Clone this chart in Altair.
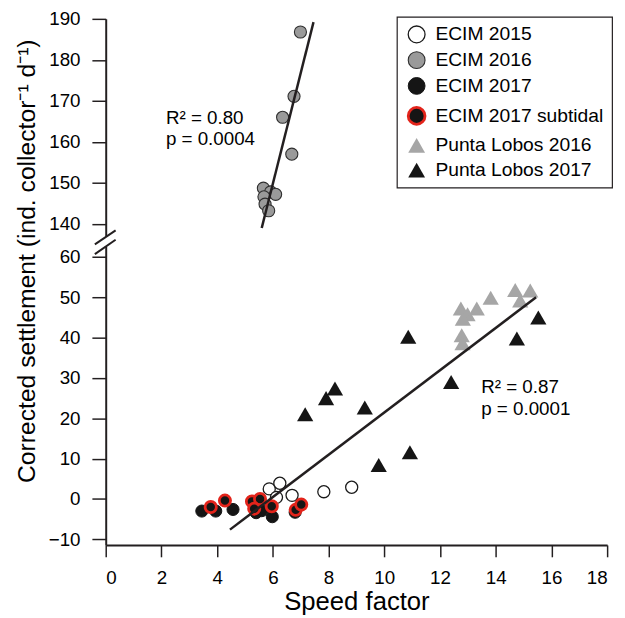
import altair as alt
import pandas as pd

FONT = "Liberation Sans"
INK = "#231f20"

# ---------------- data ----------------
groups = ["ECIM 2015", "ECIM 2016", "ECIM 2017", "ECIM 2017 subtidal",
          "Punta Lobos 2016", "Punta Lobos 2017"]

ecim2015_x = [5.87, 6.13, 6.25, 6.69, 7.83, 8.83]
ecim2015_y = [2.5, 0.4, 3.9, 0.9, 1.8, 2.9]

ecim2016_x = [6.99, 6.76, 6.35, 6.68, 5.66, 5.92, 6.10, 5.68, 5.72, 5.85]
ecim2016_y = [186.8, 171.1, 166.0, 157.0, 148.7, 147.8, 147.2, 146.6, 144.8, 143.2]

ecim2017_x = [3.45, 3.95, 4.57, 5.40, 5.60, 5.98, 6.80]
ecim2017_y = [-3.0, -3.0, -2.6, -3.4, -2.9, -4.4, -3.3]

subtidal_x = [3.77, 4.28, 5.25, 5.54, 5.33, 5.96, 6.82, 7.02]
subtidal_y = [-2.0, -0.4, -0.6, 0.0, -2.4, -1.8, -2.7, -1.4]

pl2016_x = [12.75, 12.99, 12.82, 13.32, 13.82, 14.70, 14.88, 15.24, 12.78, 12.81]
pl2016_y = [47.2, 45.8, 44.7, 47.2, 49.9, 51.8, 49.2, 51.7, 40.6, 38.6]

pl2017_x = [7.16, 7.91, 8.23, 9.30, 9.80, 10.86, 10.92, 12.40, 14.76, 15.53]
pl2017_y = [21.0, 25.0, 27.4, 22.7, 8.4, 40.2, 11.6, 29.0, 39.8, 45.0]

# regression lines (end points)
fit_top_x = [5.60, 7.46]
fit_top_y = [139.0, 189.2]
fit_bot_x = [4.46, 15.45]
fit_bot_y = [-7.6, 50.0]

ann_x = [2.16, 2.16, 13.48, 13.48]
ann_y = [165.9, 160.6, 27.8, 22.4]
ann_text = ["R\u00b2 = 0.80", "p = 0.0004", "R\u00b2 = 0.87", "p = 0.0001"]

x_ticks = list(range(0, 19, 2))
y_ticks = [-10, 0, 10, 20, 30, 40, 50, 60, 140, 150, 160, 170, 180, 190]

# broken y axis: piecewise scale (lower part, gap, upper part)
y_break_domain = [-11.4, 62.5, 136.8, 190]

# ---------------- tables ----------------
def pts(xs, ys, g):
    return pd.DataFrame({"x": xs, "y": ys, "group": g})

circles = pd.concat([
    pts(ecim2016_x, ecim2016_y, groups[1]),
    pts(ecim2017_x, ecim2017_y, groups[2]),
    pts(ecim2015_x, ecim2015_y, groups[0]),
], ignore_index=True)
subtidal = pts(subtidal_x, subtidal_y, groups[3])
triangles = pd.concat([
    pts(pl2016_x, pl2016_y, groups[4]),
    pts(pl2017_x, pl2017_y, groups[5]),
], ignore_index=True)

fits = pd.concat([
    pd.DataFrame({"x": fit_top_x, "y": fit_top_y, "line": "top"}),
    pd.DataFrame({"x": fit_bot_x, "y": fit_bot_y, "line": "bottom"}),
], ignore_index=True)

ann = pd.DataFrame({"x": ann_x, "y": ann_y, "text": ann_text})

# axis-break decoration (in data units of the broken scale)
brk_cover = pd.DataFrame({"x": [0.0], "y": [y_break_domain[1]], "y2": [y_break_domain[2]]})
brk_slash = pd.DataFrame({"x": [-0.39, -0.39], "x2": [0.355, 0.355],
                          "y": [81.8, 60.7], "y2": [138.4, 116.0]})

# ---------------- encodings ----------------
X = alt.X("x:Q",
          scale=alt.Scale(domain=[0, 18], nice=False, zero=False),
          axis=alt.Axis(title="Speed factor", values=x_ticks, tickSize=12,
                        labelPadding=12, titleBaseline="alphabetic", titleY=65,
                        titleFontSize=26))
Y = alt.Y("y:Q",
          scale=alt.Scale(domain=y_break_domain, range=[533, 231, 221, 0],
                          nice=False, zero=False),
          axis=alt.Axis(title="Corrected settlement (ind. collector\u207b\u00b9 d\u207b\u00b9)",
                        values=y_ticks, tickSize=14, labelPadding=12,
                        titleAngle=270, titleX=-72, titleY=245,
                        titleBaseline="alphabetic", titleAlign="center",
                        titleFontSize=25))

legend = alt.Legend(
    title=None, orient="none", legendX=295, legendY=-2, padding=8,
    strokeColor=INK, fillColor="white", labelFontSize=19.5, labelFont=FONT,
    labelColor="black", rowPadding=4.1, labelOffset=9, symbolOffset=2,
    symbolOpacity=1, symbolSize=290, labelLimit=400,
)

fill_enc = alt.Fill("group:N", legend=legend, scale=alt.Scale(
    domain=groups,
    range=["#ffffff", "#9a9a9a", "#151515", "#151515", "#a6a6a6", "#151515"]))
stroke_enc = alt.Stroke("group:N", legend=legend, scale=alt.Scale(
    domain=groups,
    range=["#1a1a1a", "#2e2e2e", "#151515", "#e3241b", "#a6a6a6", "#151515"]))
shape_enc = alt.Shape("group:N", legend=legend, scale=alt.Scale(
    domain=groups,
    range=["circle", "circle", "circle", "circle", "triangle-up", "triangle-up"]))
sw_enc = alt.StrokeWidth("group:N", legend=legend, scale=alt.Scale(
    type="ordinal", domain=groups, range=[1.3, 1.1, 1, 2.8, 0, 0]))

enc = dict(x=X, y=Y, fill=fill_enc, stroke=stroke_enc, shape=shape_enc,
           strokeWidth=sw_enc)

layer_circles = alt.Chart(circles).mark_point(
    filled=True, opacity=1, size=150).encode(**enc)
layer_sub = alt.Chart(subtidal).mark_point(
    filled=True, opacity=1, size=130).encode(**enc)
layer_tri = alt.Chart(triangles).mark_point(
    filled=True, opacity=1, size=270).encode(**enc)

layer_fit = alt.Chart(fits).mark_line(color=INK, strokeWidth=2.5).encode(
    x=X, y=Y, detail="line:N")

layer_text = alt.Chart(ann).mark_text(
    align="left", baseline="middle", font=FONT, fontSize=19, color="black"
).encode(x=X, y=Y, text="text:N")

layer_cover = alt.Chart(brk_cover).mark_rule(color="white", strokeWidth=6).encode(
    x=X, y=Y, y2="y2:Q")
layer_slash = alt.Chart(brk_slash).mark_rule(color=INK, strokeWidth=2).encode(
    x=X, y=Y, x2="x2:Q", y2="y2:Q")

chart = alt.layer(
    layer_tri, layer_circles, layer_sub, layer_fit, layer_text,
    layer_cover, layer_slash
).properties(
    width=508, height=533,
    autosize=alt.AutoSizeParams(type="none"),
    padding={"left": 99, "top": 7, "right": 10, "bottom": 70},
    background="white",
).configure_axis(
    grid=False, domainColor=INK, domainWidth=2, tickColor=INK, tickWidth=1.5,
    labelFont=FONT, labelFontSize=19, labelColor="black",
    titleFont=FONT, titleFontWeight="normal", titleColor="black",
).configure_legend(
    strokeWidth=1.2,
).configure_view(stroke=None)

chart.save("out.html", embed_options={"renderer": "svg", "actions": False})
